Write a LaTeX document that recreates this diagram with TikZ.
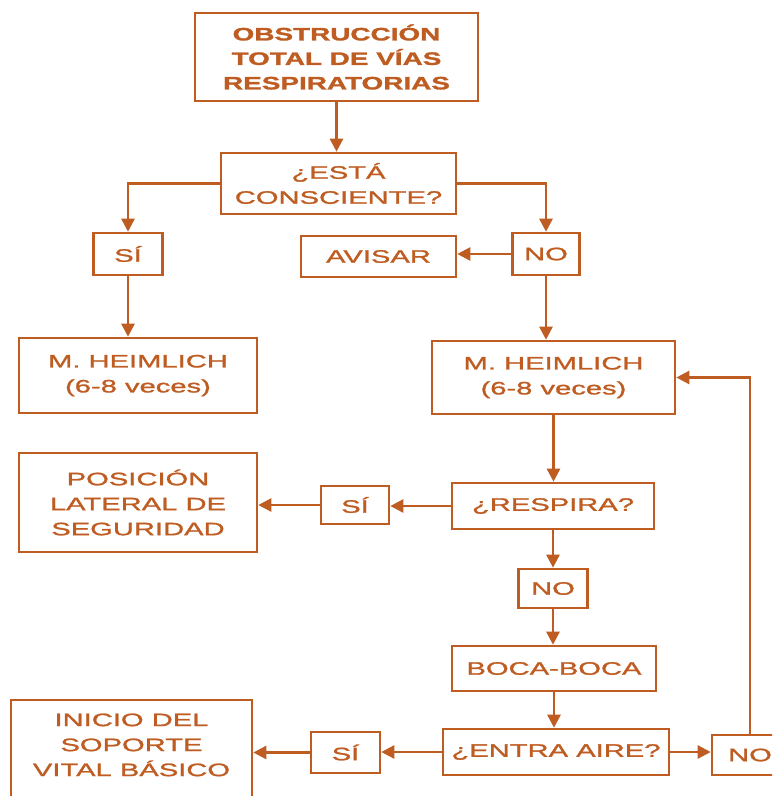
\documentclass[tikz,border=0pt]{standalone}
\usepackage{fontspec}
\setmainfont{Liberation Sans}[FakeStretch=1.62,FakeBold=1.4]
\newfontfamily\txtfont{Liberation Sans}[FakeStretch=1.62,FakeBold=1.4]
\newfontfamily\topfont{Liberation Sans Bold}[FakeStretch=1.55,FakeBold=1.5]
\usetikzlibrary{arrows.meta}
\definecolor{brn}{RGB}{190,92,34}
\tikzset{
  box/.style={draw=brn, line width=2.6pt, text=brn, inner sep=0pt, align=center,
    font=\txtfont\fontsize{18}{25}\selectfont},
  conn/.style={draw=brn, line width=2.5pt, -{Triangle[length=13pt,width=13pt]}},
}
\begin{document}
\begin{tikzpicture}[x=1pt,y=-1pt]
\useasboundingbox (0,0) rectangle (772,796);
\clip (0,0) rectangle (772,796);
\node[box, minimum width=283pt, minimum height=88pt, font=\topfont\fontsize{18}{24.5}\selectfont] (top) at (336.5,57) {OBSTRUCCIÓN\\TOTAL DE VÍAS\\RESPIRATORIAS};
\node[box, minimum width=235pt, minimum height=61pt] (conc) at (338.5,183.5) {¿ESTÁ\\CONSCIENTE?};
\node[box, minimum width=69pt, minimum height=42pt] (si1) at (128,254) {SÍ};
\node[box, minimum width=155pt, minimum height=41pt] (avisar) at (378.5,256.5) {AVISAR};
\node[box, minimum width=67pt, minimum height=42pt] (no1) at (546,254) {NO};
\node[box, minimum width=238pt, minimum height=75pt] (heim1) at (138,375.5) {M. HEIMLICH\\(6-8 veces)};
\node[box, minimum width=243pt, minimum height=73pt] (heim2) at (553.5,377.5) {M. HEIMLICH\\(6-8 veces)};
\node[box, minimum width=238pt, minimum height=99pt] (pos) at (138,502.5) {POSICIÓN\\LATERAL DE\\SEGURIDAD};
\node[box, minimum width=68pt, minimum height=38pt] (si2) at (355,505) {SÍ};
\node[box, minimum width=202pt, minimum height=46pt] (resp) at (553,506) {¿RESPIRA?};
\node[box, minimum width=69pt, minimum height=39pt] (no2) at (553,588.5) {NO};
\node[box, minimum width=204pt, minimum height=45pt] (boca) at (554,668.5) {BOCA-BOCA};
\node[box, minimum width=226pt, minimum height=46pt] (entra) at (556,752) {¿ENTRA AIRE?};
\node[box, minimum width=69pt, minimum height=41pt] (si3) at (345.5,752.5) {SÍ};
\node[box, minimum width=241pt, minimum height=104pt] (inicio) at (131.5,752) {};
\node[text=brn, align=center, font=\txtfont\fontsize{18}{25}\selectfont, anchor=north] (iniciotxt) at (131.5,710) {INICIO DEL\\SOPORTE\\VITAL BÁSICO};
\node[box, minimum width=76pt, minimum height=40pt] (no3) at (750,755) {NO};
\draw[conn] (top.south) -- (top.south |- conc.north);
\draw[conn] (conc.west) -| (si1.north);
\draw[conn] (conc.east) -| (no1.north);
\draw[conn] (no1.west) -- (no1.west -| avisar.east);
\draw[conn] (si1.south) -- (si1.south |- heim1.north);
\draw[conn] (no1.south) -- (no1.south |- heim2.north);
\draw[conn] (heim2.south) -- (heim2.south |- resp.north);
\draw[conn] (resp.west) -- (resp.west -| si2.east);
\draw[conn] (si2.west) -- (si2.west -| pos.east);
\draw[conn] (resp.south) -- (no2.north);
\draw[conn] (no2.south) -- (no2.south |- boca.north);
\draw[conn] (boca.south) -- (boca.south |- entra.north);
\draw[conn] (entra.west) -- (entra.west -| si3.east);
\draw[conn] (si3.west) -- (si3.west -| inicio.east);
\draw[conn] (entra.east) -- (entra.east -| no3.west);
\draw[conn] (no3.north) |- (heim2.east);
\end{tikzpicture}
\end{document}
